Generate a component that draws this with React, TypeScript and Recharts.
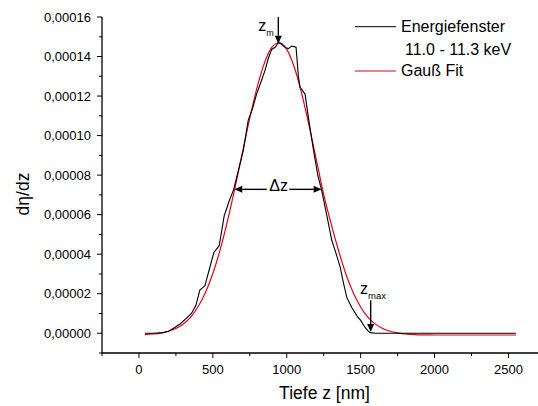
import React from "react";
import {
  LineChart,
  Line,
  XAxis,
  YAxis,
  Legend,
  ReferenceLine,
} from "recharts";

// depth z in nm, dη/dz in units of 1e-6
const energyZ = [
  40, 100, 160, 200, 240, 280, 320, 355, 385, 412, 446, 475, 507, 543, 577,
  611, 640, 675, 706, 740, 770, 796, 825, 853, 875, 898, 921, 943, 960, 977,
  995, 1011, 1034, 1050, 1063, 1079, 1090, 1124, 1147, 1180, 1210, 1237, 1270,
  1305, 1335, 1362, 1385, 1407, 1440, 1475, 1500, 1531, 1550, 1565, 1600,
  2000, 2550,
];
const energyV = [
  0, 0, 0.3, 1.0, 2.8, 4.8, 7.5, 10, 14, 21.8, 24, 32, 40.9, 44.3, 59.5, 67,
  72.5, 83, 92.5, 108, 114, 121, 127, 133, 139, 143.6, 144.7, 147, 146.5,
  145.3, 144.5, 144, 145.3, 145, 144.7, 129.7, 124.4, 121, 109, 93, 80, 72, 60,
  46.9, 40, 33.3, 25, 18, 13, 8.8, 6.5, 2.8, 1.2, 0.3, 0, 0, 0,
];

const fitZ = [
  40, 100, 150, 200, 250, 300, 350, 400, 450, 500, 550, 600, 650, 700, 750,
  800, 850, 900, 950, 1000, 1050, 1100, 1150, 1200, 1250, 1300, 1350, 1400,
  1450, 1500, 1550, 1600, 1650, 1700, 1750, 1800, 1850, 1900, 1950, 2000, 2200,
  2400, 2550,
];
const fitV = [
  -0.7, -0.4, 0.1, 1.0, 2.4, 4.7, 8.2, 13.4, 20.6, 30.2, 42.4, 57.1, 73.7,
  91.4, 108.8, 124.5, 136.9, 144.8, 147.1, 143.6, 134.8, 121.6, 105.4, 87.8,
  70.3, 55.5, 42, 30, 20.5, 13.3, 8.0, 4.6, 2.4, 1.0, 0.2, -0.4, -0.6, -0.8,
  -0.85, -0.9, -0.9, -0.9, -0.9,
];

const xTicks = [-250, 0, 250, 500, 750, 1000, 1250, 1500, 1750, 2000, 2250, 2500];
const yTicks = [-10, 0, 10, 20, 30, 40, 50, 60, 70, 80, 90, 100, 110, 120, 130, 140, 150, 160];

const seriesNames = ["Energiefenster", "Gauß Fit"];
const energyWindow = "11.0 - 11.3 keV";

const energyData = energyZ.map((z, i) => ({ z, v: energyV[i] }));
const fitData = fitZ.map((z, i) => ({ z, v: fitV[i] }));

const FONT = '"Liberation Sans", Arial, sans-serif';
const RED = "#e2001a";

const XTick = (props: any) => {
  const { x, y, payload } = props;
  const major = payload.value % 500 === 0;
  return (
    <g>
      <line x1={x} y1={y} x2={x} y2={y + (major ? 5 : 3)} stroke="#000" />
      {major && (
        <text x={x} y={y + 20.6} textAnchor="middle" fontSize={13} fontFamily={FONT} fill="#000">
          {payload.value}
        </text>
      )}
    </g>
  );
};

const YTick = (props: any) => {
  const { x, y, payload } = props;
  const major = payload.value % 20 === 0;
  return (
    <g>
      <line x1={x - (major ? 5 : 3)} y1={y} x2={x} y2={y} stroke="#000" />
      {major && (
        <text x={x - 11} y={y} dy="0.36em" textAnchor="end" fontSize={13} fontFamily={FONT} fill="#000">
          {(payload.value * 1e-6).toFixed(5).replace(".", ",")}
        </text>
      )}
    </g>
  );
};

const XTitle = ({ viewBox }: any) => (
  <text
    x={viewBox.x + viewBox.width / 2 + 4.5}
    y={viewBox.y + 46}
    textAnchor="middle"
    fontSize={17.5}
    fontFamily={FONT}
    fill="#000">
    Tiefe z [nm]
  </text>
);

const YTitle = ({ viewBox }: any) => {
  const cx = viewBox.x + 29;
  const cy = viewBox.y + viewBox.height / 2 + 9;
  return (
    <text
      x={cx}
      y={cy}
      transform={`rotate(-90 ${cx} ${cy})`}
      textAnchor="middle"
      fontSize={17.5}
      fontFamily={FONT}
      fill="#000">
      dη/dz
    </text>
  );
};

// arrow drawn from (x1,y1) to the head at (x2,y2)
const arrow = (label?: (x: number, y: number) => React.ReactNode) => (props: any) => {
  const { x1, y1, x2, y2 } = props;
  const len = Math.hypot(x2 - x1, y2 - y1) || 1;
  const ux = (x2 - x1) / len;
  const uy = (y2 - y1) / len;
  const bx = x2 - ux * 8;
  const by = y2 - uy * 8;
  const head = `${x2},${y2} ${bx - uy * 3.5},${by + ux * 3.5} ${bx + uy * 3.5},${by - ux * 3.5}`;
  return (
    <g>
      <line x1={x1} y1={y1} x2={bx} y2={by} stroke="#000" strokeWidth={1.4} />
      <polygon points={head} fill="#000" />
      {label && label(x1, y1)}
    </g>
  );
};

const zmLabel = (x: number, y: number) => (
  <text x={x - 20} y={y + 14} fontFamily={FONT} fill="#000">
    <tspan fontSize={16}>z</tspan>
    <tspan fontSize={9} dy={5}>m</tspan>
  </text>
);

const dzLabel = (x: number, y: number) => (
  <text x={x + 12} y={y + 2} textAnchor="middle" fontSize={16} fontFamily={FONT} fill="#000">
    Δz
  </text>
);

const zmaxLabel = (x: number, y: number) => (
  <text x={x - 10.7} y={y - 6} fontFamily={FONT} fill="#000">
    <tspan fontSize={16}>z</tspan>
    <tspan fontSize={9.5} dy={5}>max</tspan>
  </text>
);

const renderLegend = () => (
  <svg width={188} height={72} style={{ display: "block" }}>
    <line x1={5} y1={16.7} x2={46} y2={16.7} stroke="#000" />
    <text x={51} y={22.3} fontSize={16} fontFamily={FONT} fill="#000">
      {seriesNames[0]}
    </text>
    <text x={55} y={45} fontSize={16} fontFamily={FONT} fill="#000">
      {energyWindow}
    </text>
    <line x1={5} y1={61} x2={46} y2={61} stroke={RED} />
    <text x={51} y={66} fontSize={16} fontFamily={FONT} fill="#000">
      {seriesNames[1]}
    </text>
  </svg>
);

export default function App() {
  return (
    <div style={{ position: "absolute", left: 0, top: 0, background: "#fff" }}>
      <LineChart width={538} height={406} margin={{ top: 17, right: 0, left: 0, bottom: 0 }}>
        <XAxis
          type="number"
          dataKey="z"
          domain={[-250, 2700]}
          ticks={xTicks}
          interval={0}
          height={53}
          tickSize={0}
          tickMargin={0}
          tickLine={false}
          tick={<XTick />}
          axisLine={{ stroke: "#000", strokeWidth: 1.3 }}
          allowDataOverflow
          label={<XTitle />}
        />
        <YAxis
          type="number"
          dataKey="v"
          domain={[-10, 160]}
          ticks={yTicks}
          interval={0}
          width={102}
          tickSize={0}
          tickMargin={0}
          tickLine={false}
          tick={<YTick />}
          axisLine={{ stroke: "#000", strokeWidth: 1.3 }}
          allowDataOverflow
          label={<YTitle />}
        />
        <Legend
          layout="vertical"
          align="center"
          verticalAlign="middle"
          content={renderLegend}
          wrapperStyle={{ position: "absolute", left: 350, top: 10, width: 188, height: 72 }}
        />
        <Line
          data={fitData}
          dataKey="v"
          name={seriesNames[1]}
          type="monotone"
          stroke={RED}
          strokeWidth={1.2}
          dot={false}
          activeDot={false}
          isAnimationActive={false}
        />
        <Line
          data={energyData}
          dataKey="v"
          name={seriesNames[0]}
          type="linear"
          stroke="#000"
          strokeWidth={1.1}
          dot={false}
          activeDot={false}
          isAnimationActive={false}
        />
        <ReferenceLine
          segment={[{ x: 943, y: 160 }, { x: 943, y: 146.5 }]}
          shape={arrow(zmLabel)}
        />
        <ReferenceLine
          segment={[{ x: 864, y: 72.8 }, { x: 645, y: 72.8 }]}
          shape={arrow(dzLabel)}
        />
        <ReferenceLine
          segment={[{ x: 1017, y: 72.8 }, { x: 1236, y: 72.8 }]}
          shape={arrow()}
        />
        <ReferenceLine
          segment={[{ x: 1568, y: 16.7 }, { x: 1568, y: 0.6 }]}
          shape={arrow(zmaxLabel)}
        />
      </LineChart>
    </div>
  );
}
